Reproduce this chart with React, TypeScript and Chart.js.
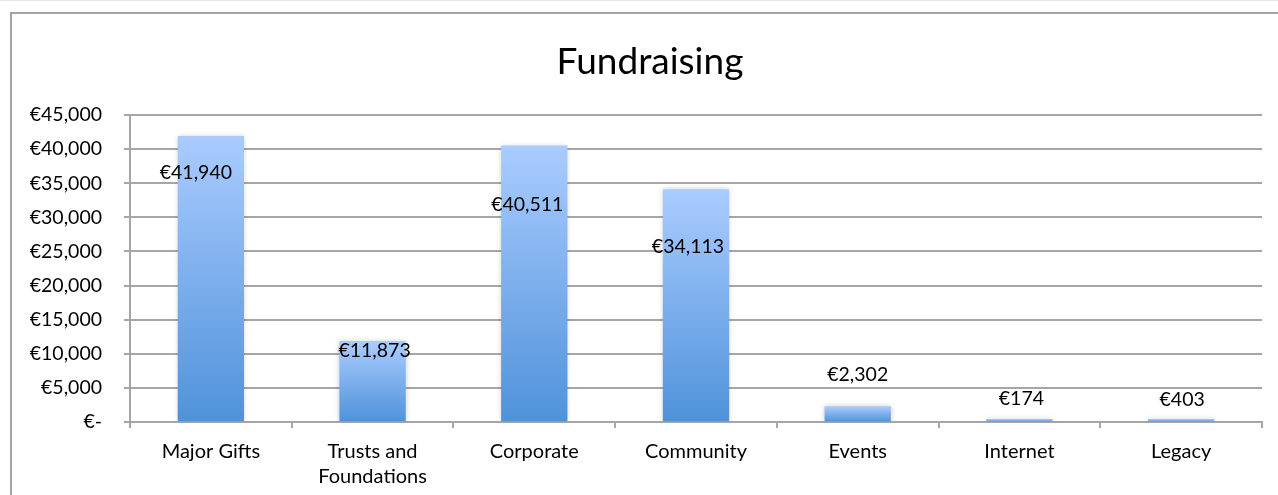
import { useEffect, useRef } from 'react';
import { Chart, registerables } from 'chart.js';

Chart.register(...registerables);

const categories = ['Major Gifts', 'Trusts and Foundations', 'Corporate', 'Community', 'Events', 'Internet', 'Legacy'];
const categoryTickLines = [['Major Gifts'], ['Trusts and', 'Foundations'], ['Corporate'], ['Community'], ['Events'], ['Internet'], ['Legacy']];
const fundraisingValues = [41940, 11873, 40511, 34113, 2302, 174, 403];
const yTickValues = [0, 5000, 10000, 15000, 20000, 25000, 30000, 35000, 40000, 45000];
const chartTitle = 'Fundraising';
// label offsets (px) relative to bar top centre, as placed in the original
const labelDx = [-15, 2, -7, -8, 0, 2, 1];
const labelDy = [37, 10, 59, 57, -32, -20, -19];

const FONT = 'Lato, "Open Sans", sans-serif';
const GRID = '#a6a6a6';

const fmtEuro = (v: number) => (v === 0 ? '€-' : '€' + v.toLocaleString('en-US'));

const framePlugin = {
  id: 'frame',
  beforeDraw(chart: any) {
    const c = chart.ctx;
    c.save();
    c.fillStyle = '#ffffff';
    c.fillRect(0, 0, chart.width, chart.height);
    c.fillStyle = '#e8e2f0';
    c.fillRect(0, 0, chart.width, 1);
    c.strokeStyle = '#a4a4a4';
    c.lineWidth = 2;
    c.strokeRect(11, 13, chart.width + 20, chart.height + 20);
    // title centred on the (partly off-screen) chart frame
    c.font = `37px ${FONT}`;
    c.fillStyle = '#000000';
    c.textAlign = 'center';
    c.textBaseline = 'middle';
    c.fillText(chartTitle, chart.width / 2 + 11, 62);
    c.restore();
  },
};

const shadowLabelPlugin = {
  id: 'shadowLabels',
  beforeDatasetsDraw(chart: any) {
    const c = chart.ctx;
    c.save();
    c.shadowColor = 'rgba(0,0,0,0.22)';
    c.shadowBlur = 5;
    c.shadowOffsetX = 0;
    c.shadowOffsetY = 0;
  },
  afterDatasetsDraw(chart: any) {
    const c = chart.ctx;
    c.restore();
    const meta = chart.getDatasetMeta(0);
    c.save();
    c.font = `19.5px ${FONT}`;
    c.fillStyle = '#000000';
    c.textAlign = 'center';
    c.textBaseline = 'middle';
    meta.data.forEach((el: any, i: number) => {
      const v = fundraisingValues[i];
      c.fillText(fmtEuro(v), el.x + labelDx[i], el.y + labelDy[i]);
    });
    c.restore();
  },
};

export default function App() {
  const ref = useRef<HTMLCanvasElement>(null);
  useEffect(() => {
    document.body.style.margin = '0';
    const canvas = ref.current!;
    const chart = new Chart(canvas, {
      type: 'bar',
      data: {
        labels: categoryTickLines as any,
        datasets: [
          {
            label: chartTitle,
            data: fundraisingValues,
            backgroundColor: (ctx: any) => {
              const ch = ctx.chart;
              const y = ch.scales && ch.scales.y;
              if (!y || ctx.type !== 'data') return '#7fb0ea';
              const v = fundraisingValues[ctx.dataIndex];
              const top = y.getPixelForValue(v);
              const bottom = y.getPixelForValue(0);
              if (!isFinite(top) || !isFinite(bottom) || top === bottom) return '#7fb0ea';
              const g = ch.ctx.createLinearGradient(0, Math.min(top, bottom - 3), 0, bottom);
              g.addColorStop(0, '#aaccff');
              g.addColorStop(1, '#4f92da');
              return g;
            },
            borderWidth: 0,
            minBarLength: 3,
            categoryPercentage: 1,
            barPercentage: 0.41,
          },
        ],
      },
      options: {
        animation: false,
        responsive: false,
        maintainAspectRatio: false,
        layout: { padding: { left: 0, right: 16, top: 0, bottom: 0 } },
        plugins: {
          legend: { display: false },
          tooltip: { enabled: false },
          title: {
            display: true,
            text: chartTitle,
            color: 'rgba(0,0,0,0)',
            font: { family: FONT, size: 37, weight: 'normal', lineHeight: 1.2 },
            padding: { top: 40, bottom: 30.6 },
          },
        },
        scales: {
          x: {
            grid: {
              offset: true,
              drawOnChartArea: false,
              drawTicks: true,
              tickLength: 6,
              color: GRID,
              lineWidth: 2,
            },
            border: { display: true, color: GRID, width: 2 },
            ticks: {
              color: '#000000',
              font: { family: FONT, size: 20, lineHeight: 1.25 },
              padding: 11,
              maxRotation: 0,
              autoSkip: false,
            },
            afterFit: (s: any) => {
              s.height = 73;
            },
          },
          y: {
            min: 0,
            max: 45000,
            afterBuildTicks: (s: any) => {
              s.ticks = yTickValues.map((v) => ({ value: v }));
            },
            grid: {
              color: GRID,
              lineWidth: 2,
              drawTicks: true,
              tickLength: 6,
            },
            border: { display: true, color: GRID, width: 2 },
            ticks: {
              color: '#000000',
              font: { family: FONT, size: 19.5 },
              padding: 22,
              callback: (v: any) => fmtEuro(Number(v)),
            },
            afterFit: (s: any) => {
              s.width = 130;
            },
          },
        },
      },
      plugins: [framePlugin, shadowLabelPlugin],
    });
    return () => chart.destroy();
  }, []);
  return (
    <div style={{ width: 1278, height: 495 }}>
      <canvas ref={ref} width={1278} height={495} style={{ display: 'block', width: 1278, height: 495 }} aria-label={categories.join(', ')} />
    </div>
  );
}
